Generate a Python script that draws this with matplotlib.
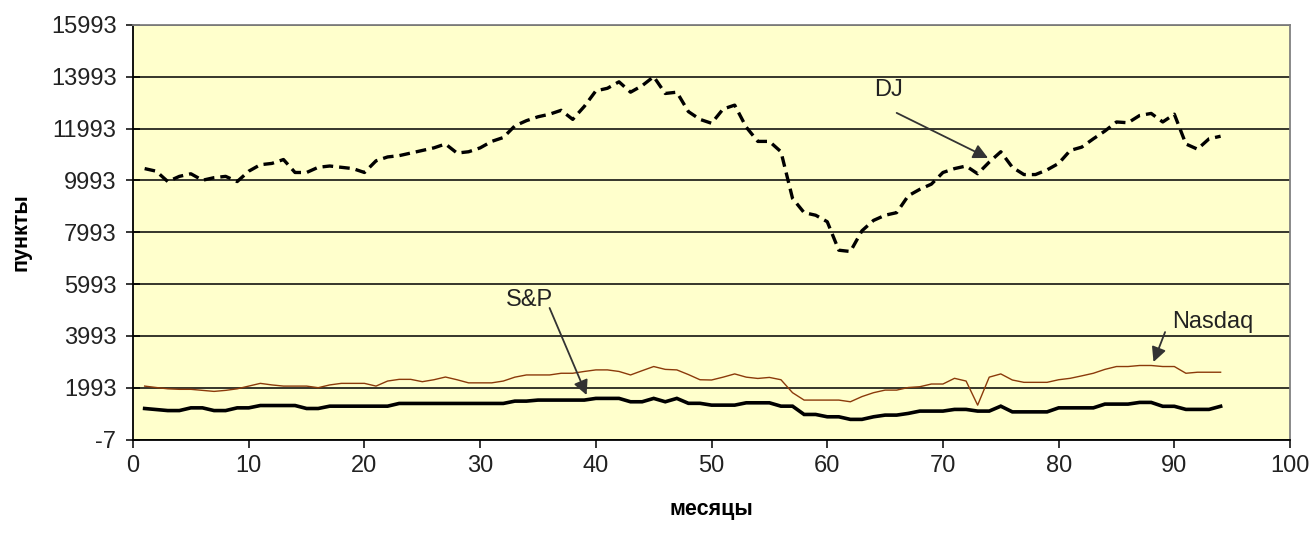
import numpy as np
import matplotlib
matplotlib.use("Agg")
import matplotlib.pyplot as plt

# months 1..94
months = list(range(1, 95))

dj = [
    10450, 10350, 9950, 10150, 10250, 10000, 10100, 10150, 9950, 10350,
    10600, 10650, 10800, 10300, 10300, 10500, 10550, 10500, 10450, 10300,
    10750, 10900, 10950, 11050, 11150, 11250, 11400, 11050, 11100, 11250,
    11500, 11650, 12100, 12300, 12450, 12550, 12700, 12350, 12850, 13450,
    13550, 13800, 13400, 13650, 14000, 13350, 13400, 12650, 12350, 12200,
    12750, 12900, 12050, 11500, 11500, 11100, 9300, 8750, 8650, 8400,
    7300, 7250, 8050, 8450, 8650, 8750, 9400, 9650, 9850, 10300,
    10450, 10550, 10250, 10700, 11100, 10500, 10220, 10220, 10400, 10650,
    11150, 11280, 11600, 11900, 12250, 12220, 12500, 12580, 12250, 12550,
    11400, 11200, 11600, 11700,
]

sp = [
    1190, 1150, 1110, 1110, 1215, 1215, 1110, 1110, 1215, 1215,
    1305, 1305, 1305, 1305, 1190, 1190, 1280, 1280, 1280, 1280,
    1280, 1280, 1385, 1385, 1385, 1385, 1385, 1385, 1385, 1385,
    1385, 1385, 1475, 1475, 1515, 1515, 1515, 1515, 1515, 1580,
    1580, 1580, 1450, 1450, 1580, 1450, 1580, 1390, 1390, 1320,
    1320, 1320, 1410, 1410, 1410, 1280, 1280, 960, 960, 870,
    870, 770, 770, 870, 935, 935, 1000, 1090, 1090, 1090,
    1155, 1155, 1090, 1090, 1280, 1060, 1060, 1060, 1060, 1215,
    1215, 1215, 1215, 1360, 1360, 1360, 1425, 1425, 1275, 1275,
    1155, 1155, 1155, 1275,
]

nasdaq = [
    2055, 2000, 1950, 1930, 1930, 1890, 1850, 1890, 1950, 2055,
    2160, 2100, 2055, 2055, 2055, 1993, 2100, 2160, 2160, 2160,
    2055, 2250, 2315, 2315, 2225, 2300, 2405, 2300, 2180, 2180,
    2180, 2250, 2400, 2485, 2485, 2485, 2550, 2550, 2620, 2680,
    2680, 2620, 2485, 2650, 2810, 2700, 2680, 2500, 2300, 2290,
    2400, 2525, 2400, 2350, 2390, 2300, 1800, 1515, 1515, 1515,
    1515, 1450, 1650, 1800, 1900, 1900, 2000, 2030, 2135, 2135,
    2355, 2250, 1320, 2400, 2525, 2290, 2200, 2200, 2200, 2300,
    2355, 2450, 2550, 2700, 2810, 2810, 2850, 2850, 2810, 2810,
    2550, 2590, 2590, 2590,
]

y_ticks = list(range(-7, 15994, 2000))
x_ticks = list(range(0, 101, 10))

# label, text centre, arrow tail, arrow head (data units)
ann_labels = ["DJ", "S&P", "Nasdaq"]
ann_text = [(65.3, 13480), (34.3, 5380), (93.3, 4530)]
ann_tail = [(66.0, 12600), (36.0, 5070), (89.2, 4140)]
ann_head = [(73.9, 10860), (39.2, 1710), (88.2, 2985)]


def main():
    plt.rcParams['font.family'] = ['Liberation Sans', 'DejaVu Sans']
    plt.rcParams['axes.unicode_minus'] = False

    fig = plt.figure(figsize=(13.11, 5.33), dpi=100)
    ax = fig.add_axes([0.1015, 0.1754, 0.8825, 0.7777])
    ax.set_facecolor('#FFFFCC')

    ax.set_xlim(0, 100)
    ax.set_ylim(-7, 15993)
    ax.set_xticks(x_ticks)
    ax.set_yticks(y_ticks)
    ax.yaxis.grid(True, color='black', linewidth=1.1)
    ax.set_axisbelow(True)

    ax.plot(months, nasdaq, color='#8B3A0A', linewidth=1.0)
    ax.plot(months, sp, color='black', linewidth=2.6, solid_joinstyle='miter')
    ax.plot(months, dj, color='black', linewidth=2.4, linestyle=(0, (3.2, 1.8)))

    for label, txt, tail, head in zip(ann_labels, ann_text, ann_tail, ann_head):
        ax.text(txt[0], txt[1], label, ha='center', va='center',
                fontsize=17, color='#222222')
        ax.annotate(
            '', xy=head, xytext=tail,
            arrowprops=dict(arrowstyle='-|>', color='#333333', lw=1.3,
                            mutation_scale=22, shrinkA=0, shrinkB=0),
        )

    ax.tick_params(axis='y', direction='inout', length=10, width=1.1,
                   labelsize=17, pad=7, colors='black', labelcolor='#222222')
    ax.tick_params(axis='x', direction='out', length=6, width=1.1,
                   labelsize=17, pad=5, colors='black', labelcolor='#222222')

    for side in ['left', 'bottom']:
        ax.spines[side].set_color('black')
        ax.spines[side].set_linewidth(1.3)
    for side in ['right', 'top']:
        ax.spines[side].set_color('#808080')
        ax.spines[side].set_linewidth(1.3)

    ax.set_xlabel('месяцы', fontsize=15.5, fontweight='bold', labelpad=16)
    ax.set_ylabel('пункты', fontsize=15.5, fontweight='bold', labelpad=14)

    fig.savefig('out.png', dpi=100, facecolor='white')
    plt.close(fig)


if __name__ == "__main__":
    main()
